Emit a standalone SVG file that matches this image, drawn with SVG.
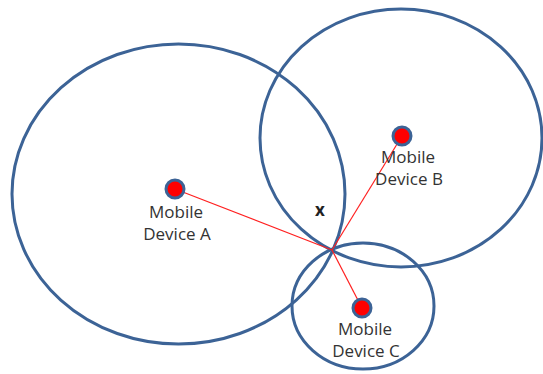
<svg xmlns="http://www.w3.org/2000/svg" width="543" height="374" viewBox="0 0 543 374">
<style>
.ring{fill:none;stroke:#3c6396;stroke-width:3}
.dot{fill:#ff0000;stroke:#3c6396;stroke-width:3}
.lbl{font-family:"Open Sans","Liberation Sans",sans-serif;font-size:17px;fill:#333333;text-anchor:middle}
.link{stroke:#ff2020;stroke-width:1.2;fill:none}
</style>
<rect width="543" height="374" fill="#ffffff"/>
<g id="ranges">
<ellipse class="ring" cx="178.5" cy="194" rx="166.5" ry="150"/>
<ellipse class="ring" cx="401" cy="138" rx="141" ry="129"/>
<ellipse class="ring" cx="363" cy="306" rx="71" ry="63"/>
</g>
<g id="connectors">
<line class="link" x1="175" y1="189" x2="332" y2="250"/>
<line class="link" x1="402" y1="136" x2="332" y2="250"/>
<line class="link" x1="362" y1="308" x2="332" y2="250"/>
</g>
<g id="deviceA">
<circle class="dot" cx="175" cy="189" r="9"/>
<text class="lbl" x="176" y="218">Mobile</text>
<text class="lbl" x="177" y="240">Device A</text>
</g>
<g id="deviceB">
<circle class="dot" cx="402" cy="136" r="9"/>
<text class="lbl" x="408" y="163">Mobile</text>
<text class="lbl" x="409" y="185">Device B</text>
</g>
<g id="deviceC">
<circle class="dot" cx="362" cy="308" r="9"/>
<text class="lbl" x="365" y="335">Mobile</text>
<text class="lbl" x="366" y="357">Device C</text>
</g>
<g id="intersection">
<text x="320" y="216" style="font-family:'Open Sans','Liberation Sans',sans-serif;font-size:17px;font-weight:bold;fill:#222;text-anchor:middle">x</text>
</g>
</svg>
